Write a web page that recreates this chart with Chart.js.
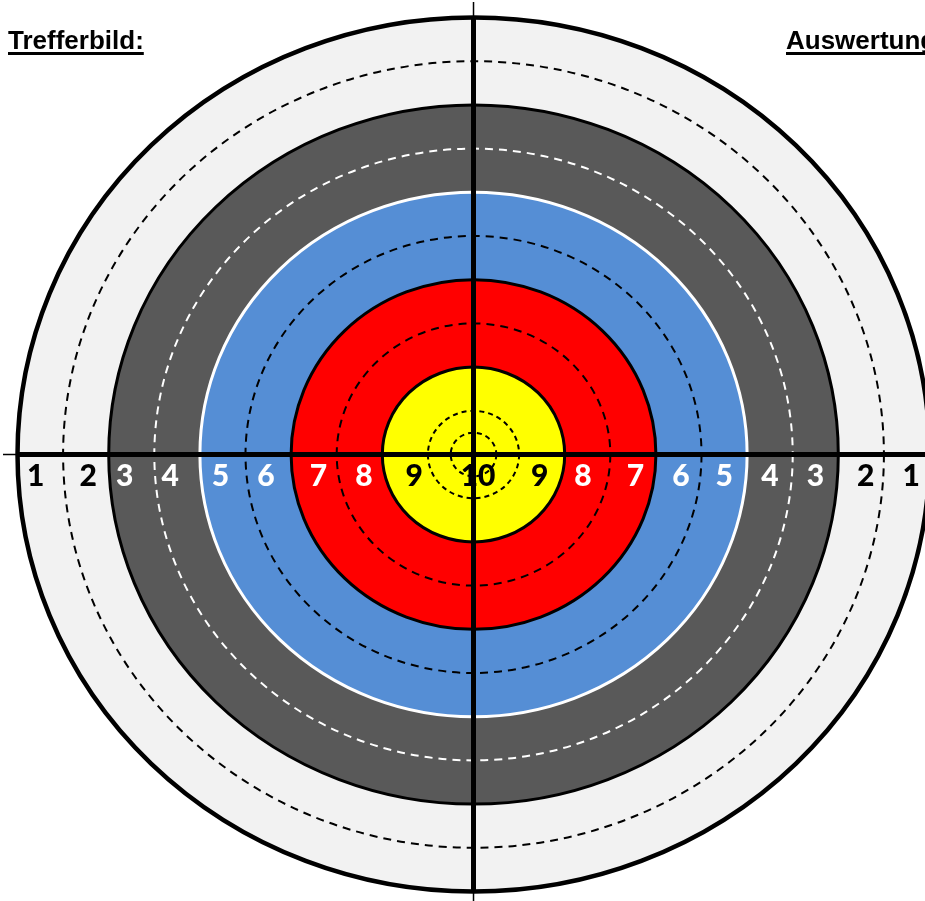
<!DOCTYPE html>
<html>
<head>
<meta charset="utf-8">
<script src="https://cdn.jsdelivr.net/npm/chart.js@4"></script>
<style>
  body { margin: 0; background: #fff; }
  #wrap { width: 925px; height: 901px; }
</style>
</head>
<body>
<div id="wrap"><canvas id="target" width="925" height="901"></canvas></div>
<script>
// target zones, outermost first (radius in ring units, 10 = outer edge)
const zoneRadii = [10, 8, 6, 4, 2];
const zoneFills = ["#f2f2f2", "#595959", "#558ed5", "#ff0000", "#ffff00"];
const zoneEdges = ["#000000", "#000000", "#ffffff", "#000000", "#000000"];

// dashed lines between the scoring rings
const dashRadii = [9, 7, 5, 3, 1, 0.5];
const dashColors = ["#000000", "#ffffff", "#000000", "#000000", "#000000", "#000000"];

// score numbers along the horizontal line
const scoreLabels = ["1", "2", "3", "4", "5", "6", "7", "8", "9", "10", "9", "8", "7", "6", "5", "4", "3", "2", "1"];
const scoreAt = [-9.6, -8.45, -7.65, -6.65, -5.55, -4.55, -3.4, -2.4, -1.3, 0.1, 1.45, 2.4, 3.55, 4.55, 5.5, 6.5, 7.5, 8.6, 9.6];
const scoreColors = ["#000", "#000", "#fff", "#fff", "#fff", "#fff", "#fff", "#fff", "#000", "#000",
                     "#000", "#fff", "#fff", "#fff", "#fff", "#fff", "#fff", "#000", "#000"];

const headings = ["Trefferbild:", "Auswertung"];

// 🎯 draws the target through the chart's x / y scales
const targetPlugin = {
  id: "target",
  beforeDatasetsDraw(chart) {
    const ctx = chart.ctx;
    const xs = chart.scales.x, ys = chart.scales.y;
    const cx = xs.getPixelForValue(0), cy = ys.getPixelForValue(0);
    const rx = r => Math.abs(xs.getPixelForValue(r) - cx);
    const ry = r => Math.abs(ys.getPixelForValue(r) - cy);

    ctx.save();
    // coloured zones
    zoneRadii.forEach((r, i) => {
      ctx.beginPath();
      ctx.ellipse(cx, cy, rx(r), ry(r), 0, 0, Math.PI * 2);
      ctx.fillStyle = zoneFills[i];
      ctx.fill();
      ctx.lineWidth = i === 0 ? 4.5 : 3;
      ctx.strokeStyle = zoneEdges[i];
      ctx.stroke();
    });

    // dashed ring lines
    dashRadii.forEach((r, i) => {
      ctx.beginPath();
      ctx.ellipse(cx, cy, rx(r), ry(r), 0, 0, Math.PI * 2);
      ctx.setLineDash(r < 2 ? [5, 4] : [8, 6]);
      ctx.lineWidth = 2;
      ctx.strokeStyle = dashColors[i];
      ctx.stroke();
    });
    ctx.setLineDash([]);

    // thin cross lines running past the edge
    ctx.strokeStyle = "#000";
    ctx.lineWidth = 1.5;
    ctx.beginPath();
    ctx.moveTo(cx, 2); ctx.lineTo(cx, chart.height);
    ctx.moveTo(3, cy); ctx.lineTo(chart.width, cy);
    ctx.stroke();

    // thick cross lines inside the target
    ctx.save();
    ctx.beginPath();
    ctx.ellipse(cx, cy, rx(zoneRadii[0]), ry(zoneRadii[0]), 0, 0, Math.PI * 2);
    ctx.clip();
    ctx.lineWidth = 5;
    ctx.beginPath();
    ctx.moveTo(cx, 0); ctx.lineTo(cx, chart.height);
    ctx.moveTo(0, cy); ctx.lineTo(chart.width, cy);
    ctx.stroke();
    ctx.restore();

    // score numbers
    ctx.font = "900 30px Lato";
    ctx.textAlign = "center";
    ctx.textBaseline = "alphabetic";
    scoreLabels.forEach((t, i) => {
      ctx.fillStyle = scoreColors[i];
      ctx.fillText(t, xs.getPixelForValue(scoreAt[i]), cy + 32);
    });

    // headings
    ctx.font = "bold 26px 'Liberation Sans'";
    ctx.fillStyle = "#000";
    ctx.textAlign = "left";
    ctx.fillText(headings[0], 8, 49);
    let w = ctx.measureText(headings[0]).width;
    ctx.fillRect(8, 52, w, 3);
    ctx.fillText(headings[1], 786, 49);
    w = ctx.measureText(headings[1]).width;
    ctx.fillRect(786, 52, w, 3);
    ctx.restore();
  }
};

new Chart(document.getElementById("target"), {
  type: "scatter",
  data: { datasets: [{ data: [] }] },
  options: {
    responsive: false,
    animation: false,
    layout: { padding: 0 },
    plugins: { legend: { display: false }, tooltip: { enabled: false } },
    scales: {
      x: { display: false, min: -10.384, max: 9.901 },
      y: { display: false, min: -10.217, max: 10.4 }
    }
  },
  plugins: [targetPlugin]
});
</script>
</body>
</html>
